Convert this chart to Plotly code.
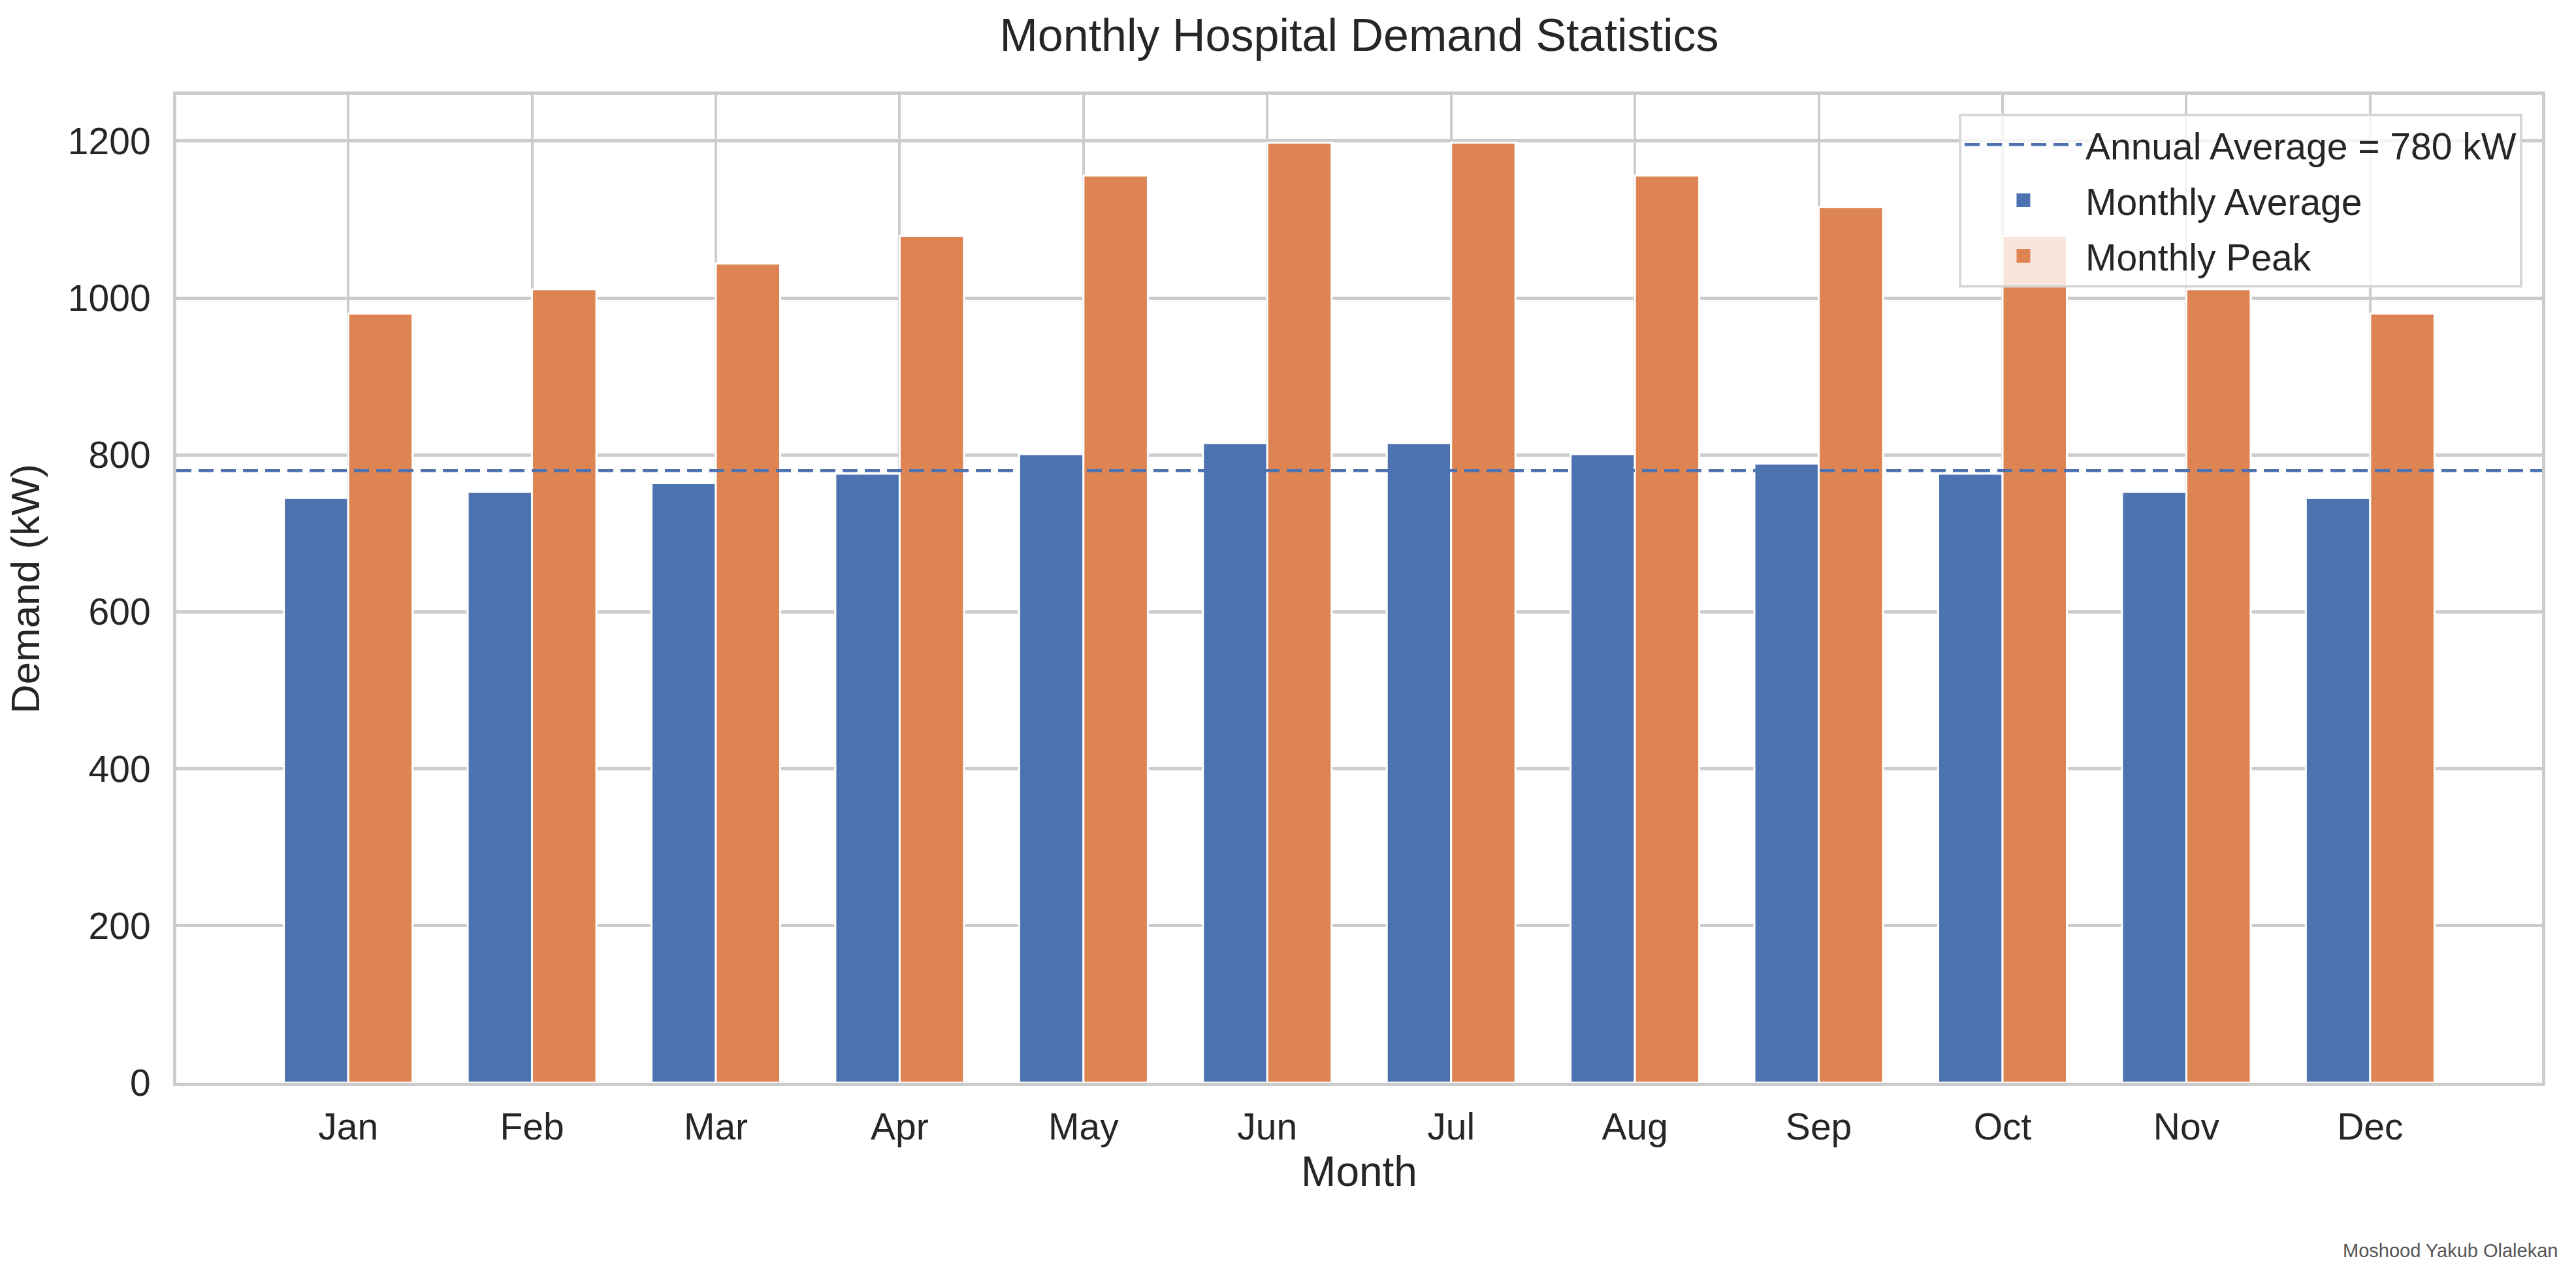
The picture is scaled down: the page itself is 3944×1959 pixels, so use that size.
import numpy as np
import plotly.graph_objects as go

# monthly demand statistics (kW)
months = ["Jan", "Feb", "Mar", "Apr", "May", "Jun",
          "Jul", "Aug", "Sep", "Oct", "Nov", "Dec"]
monthly_avg = [745, 753, 764, 776, 801, 815, 815, 801, 789, 776, 753, 745]
monthly_peak = [980, 1011, 1044, 1079, 1156, 1198, 1198, 1156, 1116, 1079, 1011, 980]
annual_avg = 780

BLUE = "#4c72b0"
ORANGE = "#dd8452"
GRID = "#cccccc"
TEXT = "#262626"
FONT = "Liberation Sans, Arial, sans-serif"
DASH = "23px,11px"

x = np.arange(len(months))

fig = go.Figure()

fig.add_trace(go.Bar(x=x, y=monthly_avg, name="Monthly Average", showlegend=False,
                     marker=dict(color=BLUE, line=dict(color="white", width=3))))
fig.add_trace(go.Bar(x=x, y=monthly_peak, name="Monthly Peak", showlegend=False,
                     marker=dict(color=ORANGE, line=dict(color="white", width=3))))
fig.add_hline(y=annual_avg, line=dict(color=BLUE, width=4.5, dash=DASH))

# legend-only entries (bigger swatches than the default bar legend symbol)
fig.add_trace(go.Scatter(x=[None], y=[None], mode="lines", legendgroup="a",
                         name=f"Annual Average = {annual_avg} kW",
                         line=dict(color=BLUE, width=4.5, dash=DASH)))
for name, col, grp in [("Monthly Average", BLUE, "b"), ("Monthly Peak", ORANGE, "c")]:
    fig.add_trace(go.Scatter(x=[None], y=[None], mode="markers", name=name,
                             legendgroup=grp,
                             marker=dict(symbol="square", size=16, color=col,
                                         line=dict(color=col, width=5))))

fig.update_layout(
    width=3944, height=1959,
    margin=dict(l=270, r=52, t=145, b=302),
    paper_bgcolor="white", plot_bgcolor="white",
    font=dict(family=FONT, color=TEXT, size=57),
    barmode="group", bargap=0.3, bargroupgap=0,
    title=dict(text="Monthly Hospital Demand Statistics", x=0.5, xref="paper",
               xanchor="center", y=1 - 53 / 1959, yanchor="middle",
               font=dict(size=70, color=TEXT)),
    legend=dict(x=0.9917, y=0.981, xanchor="right", yanchor="top",
                bgcolor="rgba(255,255,255,0.8)", bordercolor="#d6d6d6", borderwidth=4,
                font=dict(size=57, color=TEXT), traceorder="grouped",
                itemwidth=180, tracegroupgap=8),
    showlegend=True,
)

fig.update_xaxes(
    tickmode="array", tickvals=x, ticktext=months,
    range=[-0.935, 11.935],
    showgrid=True, gridcolor=GRID, gridwidth=4,
    showline=True, linecolor=GRID, linewidth=5, mirror=True,
    ticks="", ticklabelstandoff=14, zeroline=False,
    title=dict(text="Month", font=dict(size=64, color=TEXT), standoff=16),
)
fig.update_yaxes(
    range=[0, 1259], tickvals=[0, 200, 400, 600, 800, 1000, 1200],
    showgrid=True, gridcolor=GRID, gridwidth=5,
    showline=True, linecolor=GRID, linewidth=5, mirror=True,
    ticks="", ticklabelstandoff=23, zeroline=False,
    title=dict(text="Demand (kW)", font=dict(size=62, color=TEXT), standoff=25),
)

fig.add_annotation(text="Moshood Yakub Olalekan", xref="paper", yref="paper",
                   x=1.0072, y=-0.17, xanchor="right", yanchor="middle",
                   showarrow=False, font=dict(size=29, color="#555555"))

fig.write_html("out.html", config={"displayModeBar": False},
               post_script="document.body.style.margin='0';")
